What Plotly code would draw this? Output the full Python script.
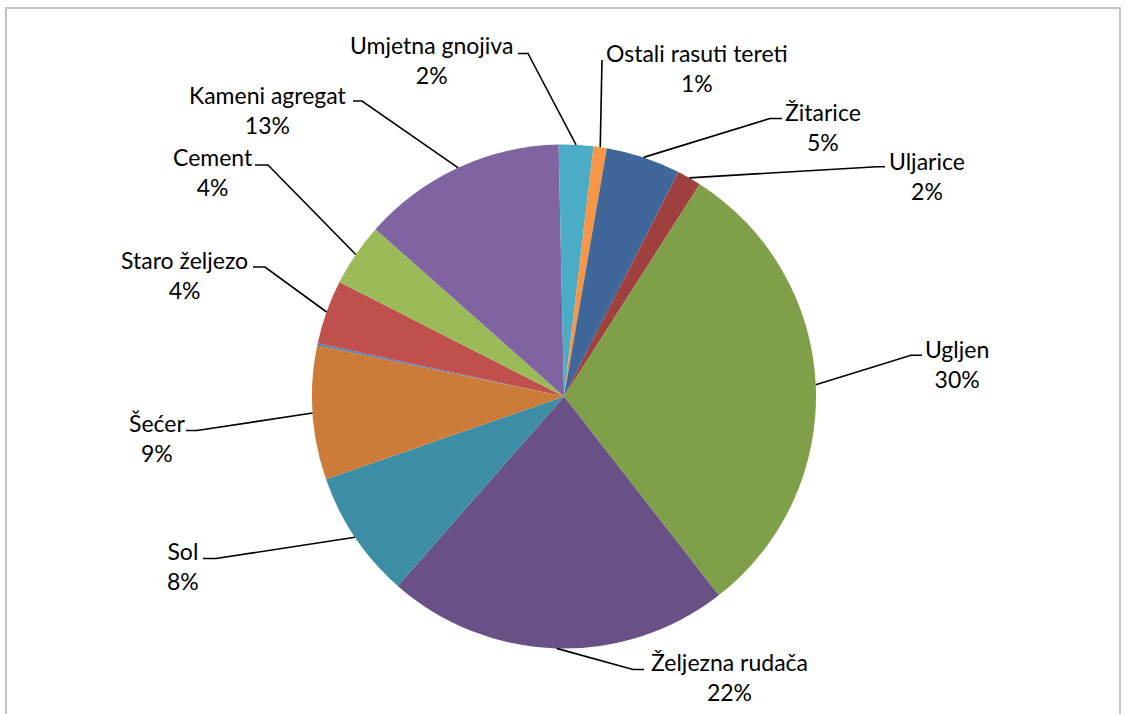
import math
import plotly.graph_objects as go

# ---------------- data ----------------
categories = ["", "Staro željezo", "Cement", "Kameni agregat", "Umjetna gnojiva",
              "Ostali rasuti tereti", "Žitarice", "Uljarice", "Ugljen",
              "Željezna rudača", "Sol", "Šećer"]
shares = [0.15, 4.11, 4.05, 13.10, 2.21, 0.85, 4.78, 1.55, 30.40, 21.98, 8.20, 8.56]
slice_colors = ["#4F81BD", "#C0504D", "#9BBB59", "#8064A2", "#4BACC6", "#F79646",
                "#3F679A", "#9F403E", "#7F9F49", "#695187", "#3D8EA5", "#CD7B38"]

# ---------------- layout constants ----------------
W, H = 1128, 714
CX, CY, R = 564.0, 396.5, 252.0      # pie centre / radius in pixels
ROTATION = 281.65                    # start angle of first slice (deg, clockwise from 12 o'clock)

# label block centre and leader line elbow (pixels), per category
label_layout = {
    "Umjetna gnojiva":      dict(c=(431.5, 60.0),  p=[(518, 53.5), (528, 53.5)]),
    "Ostali rasuti tereti": dict(c=(696.7, 68.3),  p=[(602, 60.0)]),
    "Žitarice":             dict(c=(823.0, 126.7), p=[(782, 118.5), (770, 118.5)]),
    "Uljarice":             dict(c=(926.7, 176.0), p=[(885, 166.7), (877, 166.7)]),
    "Ugljen":               dict(c=(957.0, 364.0), p=[(922, 355.3), (911, 355.3)]),
    "Željezna rudača":      dict(c=(729.7, 676.5), p=[(644, 669.5), (633, 669.5)]),
    "Sol":                  dict(c=(183.0, 566.0), p=[(203, 558.5), (216, 558.5)]),
    "Šećer":                dict(c=(157.0, 438.0), p=[(186, 430.5), (197, 430.5)]),
    "Staro željezo":        dict(c=(184.5, 275.0), p=[(253, 267.0), (265, 267.0)]),
    "Cement":               dict(c=(212.5, 171.7), p=[(255, 165.0), (268, 165.0)]),
    "Kameni agregat":       dict(c=(268.0, 110.0), p=[(353, 101.0), (362, 101.0)]),
}


def px2paper(x, y):
    return x / W, 1 - y / H


fig = go.Figure()
fig.add_trace(go.Pie(
    labels=[c if c else "(ostalo)" for c in categories],
    values=shares,
    sort=False,
    direction="clockwise",
    rotation=ROTATION,
    marker=dict(colors=slice_colors, line=dict(width=0)),
    textinfo="none",
    hoverinfo="skip",
    showlegend=False,
    domain=dict(x=[(CX - R) / W, (CX + R) / W],
                y=[1 - (CY + R) / H, 1 - (CY - R) / H]),
))

total = sum(shares)
annotations = []
shapes = []
cum = 0.0
for name, v in zip(categories, shares):
    mid = ROTATION + (cum + v / 2) / total * 360.0
    cum += v
    if not name:
        continue
    a = math.radians(mid)
    ex, ey = CX + R * math.sin(a), CY - R * math.cos(a)
    lay = label_layout[name]
    pct = round(v / total * 100)
    cx, cy = px2paper(*lay["c"])
    annotations.append(dict(
        x=cx, y=cy, xref="paper", yref="paper", xanchor="center", yanchor="middle",
        text=f"{name}<br>{pct}%", showarrow=False, align="center",
        font=dict(family="Lato", size=23, color="#000000"),
    ))
    pts = lay["p"] + [(ex, ey)]
    path = "M " + " L ".join(f"{px2paper(x, y)[0]:.5f},{px2paper(x, y)[1]:.5f}" for x, y in pts)
    shapes.append(dict(type="path", path=path, xref="paper", yref="paper",
                       line=dict(color="#000000", width=1.6)))

# chart-area border
bx0, by0 = px2paper(6, 8)
bx1, by1 = px2paper(1120, 730)
shapes.append(dict(type="rect", xref="paper", yref="paper", x0=bx0, y0=by1, x1=bx1, y1=by0,
                   line=dict(color="#C4C4C4", width=2), fillcolor="rgba(0,0,0,0)", layer="below"))

fig.update_layout(
    width=W, height=H,
    margin=dict(l=0, r=0, t=0, b=0),
    paper_bgcolor="#FFFFFF",
    plot_bgcolor="#FFFFFF",
    annotations=annotations,
    shapes=shapes,
)

fig.write_html("out.html",
               config={"displayModeBar": False},
               post_script="document.body.style.margin='0';document.body.style.padding='0';")
